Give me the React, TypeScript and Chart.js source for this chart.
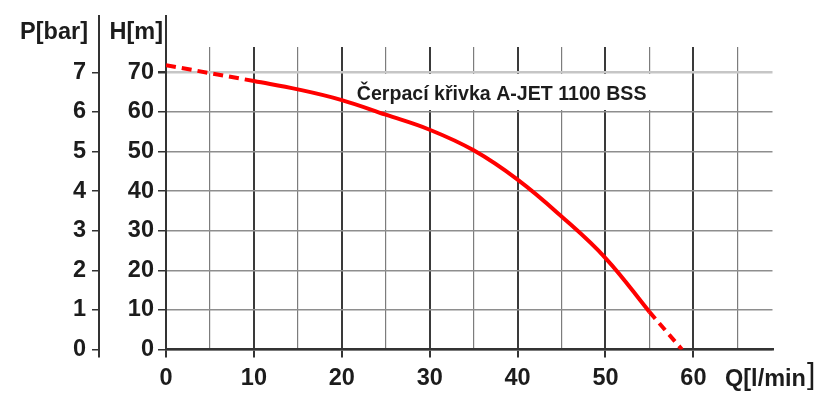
import React, { useEffect, useRef } from "react";
import { Chart, registerables } from "chart.js";

Chart.register(...registerables);

// Flow Q [l/min] and head H [m]
const startQ = [0, 10];
const startH = [71.8, 67.8];
const curveQ = [10, 15, 20, 25, 30, 35, 40, 45, 50, 55];
const curveH = [67.8, 65.7, 63.0, 59.3, 55.5, 50.3, 42.9, 33.6, 23.1, 9.5];
const endQ = [55, 58.7];
const endH = [9.5, 0];

const hTicks = [0, 10, 20, 30, 40, 50, 60, 70];
const pTicks = [0, 1, 2, 3, 4, 5, 6, 7];
const qTickLabels = [0, 10, 20, 30, 40, 50, 60];

const chartTitle = "Čerpací křivka A-JET 1100 BSS";
const pTitle = "P[bar]";
const hTitle = "H[m]";
const qTitle = "Q[l/min";

const FONT = "'Liberation Sans', Arial, Helvetica, sans-serif";
const TXT = "#1c1c1c";
const TICK_SIZE = 23.5;

const toPts = (xs: number[], ys: number[]) => xs.map((x, i) => ({ x, y: ys[i] }));

export default function App() {
  const ref = useRef<HTMLCanvasElement | null>(null);
  useEffect(() => {
    document.body.style.margin = "0";
    const canvas = ref.current!;
    const decor = {
      id: "decor",
      beforeDatasetsDraw(chart: any) {
        const { ctx } = chart;
        const ys = chart.scales.y;
        const x = chart.scales.x;
        ctx.save();
        ctx.fillStyle = "#ffffff";
        ctx.fillRect(353, 74, 302, 36);
        ctx.fillStyle = TXT;
        ctx.font = `bold 19.6px ${FONT}`;
        ctx.textAlign = "left";
        ctx.textBaseline = "middle";
        ctx.fillText(chartTitle, x.getPixelForValue(21.7), ys.getPixelForValue(64.5));
        ctx.restore();
      },
      afterDraw(chart: any) {
        const { ctx, chartArea } = chart;
        const p = chart.scales.p;
        ctx.save();
        ctx.strokeStyle = "#333";
        ctx.lineWidth = 2;
        ctx.beginPath();
        ctx.moveTo(p.right - 1, 15);
        ctx.lineTo(p.right - 1, chartArea.bottom + 8);
        ctx.moveTo(chartArea.left, 15);
        ctx.lineTo(chartArea.left, chartArea.top);
        ctx.stroke();
        ctx.fillStyle = TXT;
        ctx.font = `bold ${TICK_SIZE}px ${FONT}`;
        ctx.textBaseline = "middle";
        ctx.textAlign = "right";
        ctx.fillText(pTitle, p.right - 12, 33);
        ctx.fillText(hTitle, chartArea.left - 3, 33);
        ctx.textAlign = "left";
        const qx = 725;
        ctx.fillText(qTitle, qx, 380);
        const w = ctx.measureText(qTitle).width;
        ctx.font = `30px ${FONT}`;
        ctx.fillText("]", qx + w + 1, 376);
        ctx.restore();
      },
    };

    const tickFont = { family: FONT, size: TICK_SIZE, weight: "bold" };

    const chart = new Chart(canvas, {
      type: "scatter",
      data: {
        datasets: [
          {
            data: toPts(startQ, startH),
            showLine: true,
            borderColor: "#ff0000",
            borderWidth: 4,
            borderDash: [10, 6],
            pointRadius: 0,
            yAxisID: "y",
          },
          {
            data: toPts(curveQ, curveH),
            showLine: true,
            borderColor: "#ff0000",
            borderWidth: 4,
            tension: 0.4,
            pointRadius: 0,
            yAxisID: "y",
          },
          {
            data: toPts(endQ, endH),
            showLine: true,
            borderColor: "#ff0000",
            borderWidth: 4,
            borderDash: [9, 6],
            pointRadius: 0,
            yAxisID: "y",
          },
        ],
      },
      options: {
        animation: false,
        responsive: false,
        maintainAspectRatio: false,
        layout: { padding: { top: 47, right: 55.5, left: 0, bottom: 0 } },
        plugins: { legend: { display: false }, tooltip: { enabled: false }, title: { display: false } },
        scales: {
          x: {
            type: "linear",
            min: 0,
            max: 69,
            afterFit: (s: any) => { s.height = 44.5; },
            ticks: {
              stepSize: 5,
              includeBounds: false,
              autoSkip: false,
              maxRotation: 0,
              padding: 7,
              color: TXT,
              font: tickFont,
              callback: (v: any) => (qTickLabels.includes(Number(v)) ? String(v) : ""),
            },
            grid: {
              color: (c: any) => (c.tick && c.tick.value % 10 === 0 ? "#3a3a3a" : "#7c7c7c"),
              lineWidth: (c: any) => (c.tick && c.tick.value % 10 === 0 ? 2 : 1.2),
              tickColor: (c: any) => (c.tick && c.tick.value % 10 === 0 ? "#333" : "rgba(0,0,0,0)"),
              tickLength: 8,
            },
            border: { display: true, color: "#333", width: 2.5 },
          },
          y: {
            type: "linear",
            position: "left",
            weight: 0,
            min: 0,
            max: 76.4,
            afterFit: (s: any) => { s.width = 66; },
            afterBuildTicks: (s: any) => { s.ticks = hTicks.map((v) => ({ value: v })); },
            ticks: { padding: 4, color: TXT, font: tickFont },
            grid: {
              color: (c: any) => (c.tick && c.tick.value === 70 ? "#c6c6c6" : "#8e8e8e"),
              lineWidth: (c: any) => (c.tick && c.tick.value === 70 ? 2.5 : 1.5),
              tickColor: "#333",
              tickLength: 8,
            },
            border: { display: true, color: "#333", width: 2 },
          },
          p: {
            type: "linear",
            position: "left",
            weight: 1,
            min: 0,
            max: 7.64,
            afterFit: (s: any) => { s.width = 100; },
            afterBuildTicks: (s: any) => { s.ticks = pTicks.map((v) => ({ value: v })); },
            ticks: { padding: 6, color: TXT, font: tickFont },
            grid: { drawOnChartArea: false, tickColor: "#333", tickLength: 8, lineWidth: 1.5 },
            border: { display: false },
          },
        },
      },
      plugins: [decor],
    } as any);
    return () => chart.destroy();
  }, []);
  return <canvas ref={ref} width={828} height={394} style={{ display: "block" }} />;
}
